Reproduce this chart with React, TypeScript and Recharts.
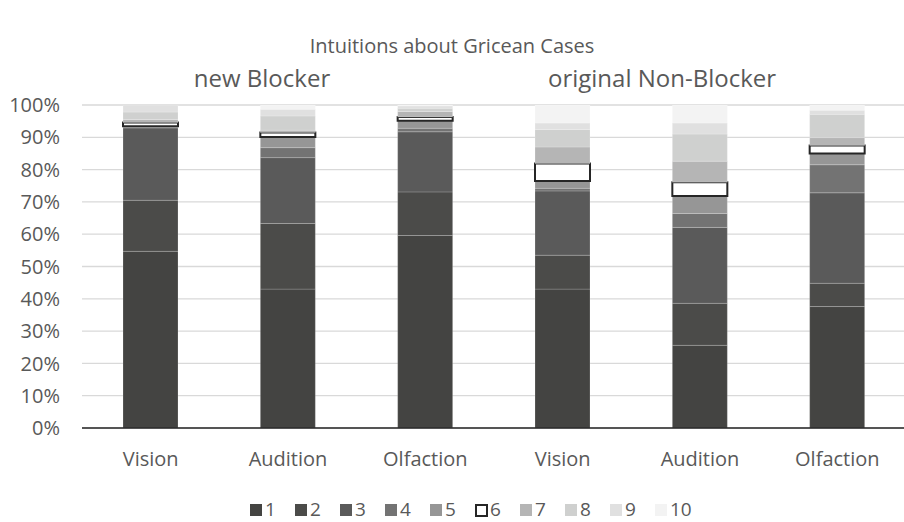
import React from "react";
import { BarChart, Bar, XAxis, YAxis, CartesianGrid } from "recharts";

const categories = ["Vision", "Audition", "Olfaction", "Vision", "Audition", "Olfaction"];
const seriesNames = ["1", "2", "3", "4", "5", "6", "7", "8", "9", "10"];
const s1 = [54.7, 43.0, 59.6, 43.0, 25.6, 37.6];
const s2 = [15.8, 20.3, 13.5, 10.5, 13.0, 7.2];
const s3 = [22.4, 20.4, 18.6, 19.9, 23.5, 28.0];
const s4 = [0.2, 3.1, 1.1, 0.8, 4.3, 8.7];
const s5 = [0.3, 3.3, 2.3, 2.3, 5.4, 3.5];
const s6 = [1.2, 1.4, 1.2, 5.4, 4.3, 2.5];
const s7 = [0.9, 0.7, 1.7, 5.1, 6.5, 2.4];
const s8 = [2.3, 4.4, 1.0, 5.4, 8.4, 7.2];
const s9 = [2.2, 2.1, 0.7, 2.0, 3.4, 1.3];
const s10 = [0.0, 1.3, 0.3, 5.6, 5.6, 1.6];
const seriesValues = [s1, s2, s3, s4, s5, s6, s7, s8, s9, s10];
const yTicks = [0, 10, 20, 30, 40, 50, 60, 70, 80, 90, 100];
const titleText = "Intuitions about Gricean Cases";
const groupTitles = ["new Blocker", "original Non-Blocker"];

const fills = ["#444442", "#4b4b49", "#5a5a5a", "#737373", "#969696", "#ffffff", "#b5b5b5", "#cfd0cf", "#e0e0e0", "#f3f3f3"];

const data = categories.map((c, i) => {
  const row: Record<string, any> = { cat: c, key: i };
  seriesNames.forEach((n, k) => {
    row["s" + n] = seriesValues[k][i];
  });
  return row;
});

const FONT = "'Open Sans', sans-serif";
const TXT = "#595959";

export default function App() {
  return (
    <div style={{ position: "absolute", left: 0, top: 0, width: 904, height: 522, overflow: "hidden", background: "#fff" }}>
      <BarChart
        width={906}
        height={522}
        data={data}
        margin={{ top: 105, right: 0, left: 0, bottom: 0 }}
        barSize={55}
      >
        <CartesianGrid horizontal vertical={false} stroke="#d9d9d9" strokeWidth={1.3} />
        <XAxis
          dataKey="key"
          tickFormatter={(v: any) => categories[v]}
          height={94}
          tickSize={0}
          tickMargin={24}
          axisLine={{ stroke: "#262626", strokeWidth: 1.5 }}
          tickLine={false}
          tick={{ fill: TXT, fontSize: 20, fontFamily: FONT }}
          interval={0}
        />
        <YAxis
          width={82}
          domain={[0, 100]}
          ticks={yTicks}
          tickFormatter={(v: any) => v + "%"}
          tickSize={0}
          tickMargin={22}
          axisLine={false}
          tickLine={false}
          allowDataOverflow
          tick={{ fill: TXT, fontSize: 20, fontFamily: FONT }}
        />
        {seriesNames.map((n, k) => (
          <Bar
            key={n}
            dataKey={"s" + n}
            stackId="a"
            fill={fills[k]}
            stroke={k === 5 ? "#262626" : "rgba(255,255,255,0.25)"}
            strokeWidth={k === 5 ? 2 : 0.75}
            isAnimationActive={false}
          />
        ))}
      </BarChart>
      <svg width={904} height={100} style={{ position: "absolute", left: 0, top: 0 }}>
        <text x={452} y={53} textAnchor="middle" fontFamily={FONT} fontSize={20} fill={TXT}>{titleText}</text>
        <text x={262} y={87} textAnchor="middle" fontFamily={FONT} fontSize={24} fill={TXT}>{groupTitles[0]}</text>
        <text x={662} y={87} textAnchor="middle" fontFamily={FONT} fontSize={24} fill={TXT}>{groupTitles[1]}</text>
      </svg>
      <svg width={904} height={27} style={{ position: "absolute", left: 0, top: 495 }}>
        {seriesNames.map((n, k) => {
          const x = 250 + k * 45;
          return (
            <g key={n}>
              {k === 5 ? (
                <rect x={x + 1} y={10} width={11} height={11} fill="#fff" stroke="#262626" strokeWidth={2} />
              ) : (
                <rect x={x} y={9} width={12} height={12} fill={fills[k]} />
              )}
              <text x={x + 15} y={21} fontFamily={FONT} fontSize={19} fill={TXT}>{n}</text>
            </g>
          );
        })}
      </svg>
    </div>
  );
}
